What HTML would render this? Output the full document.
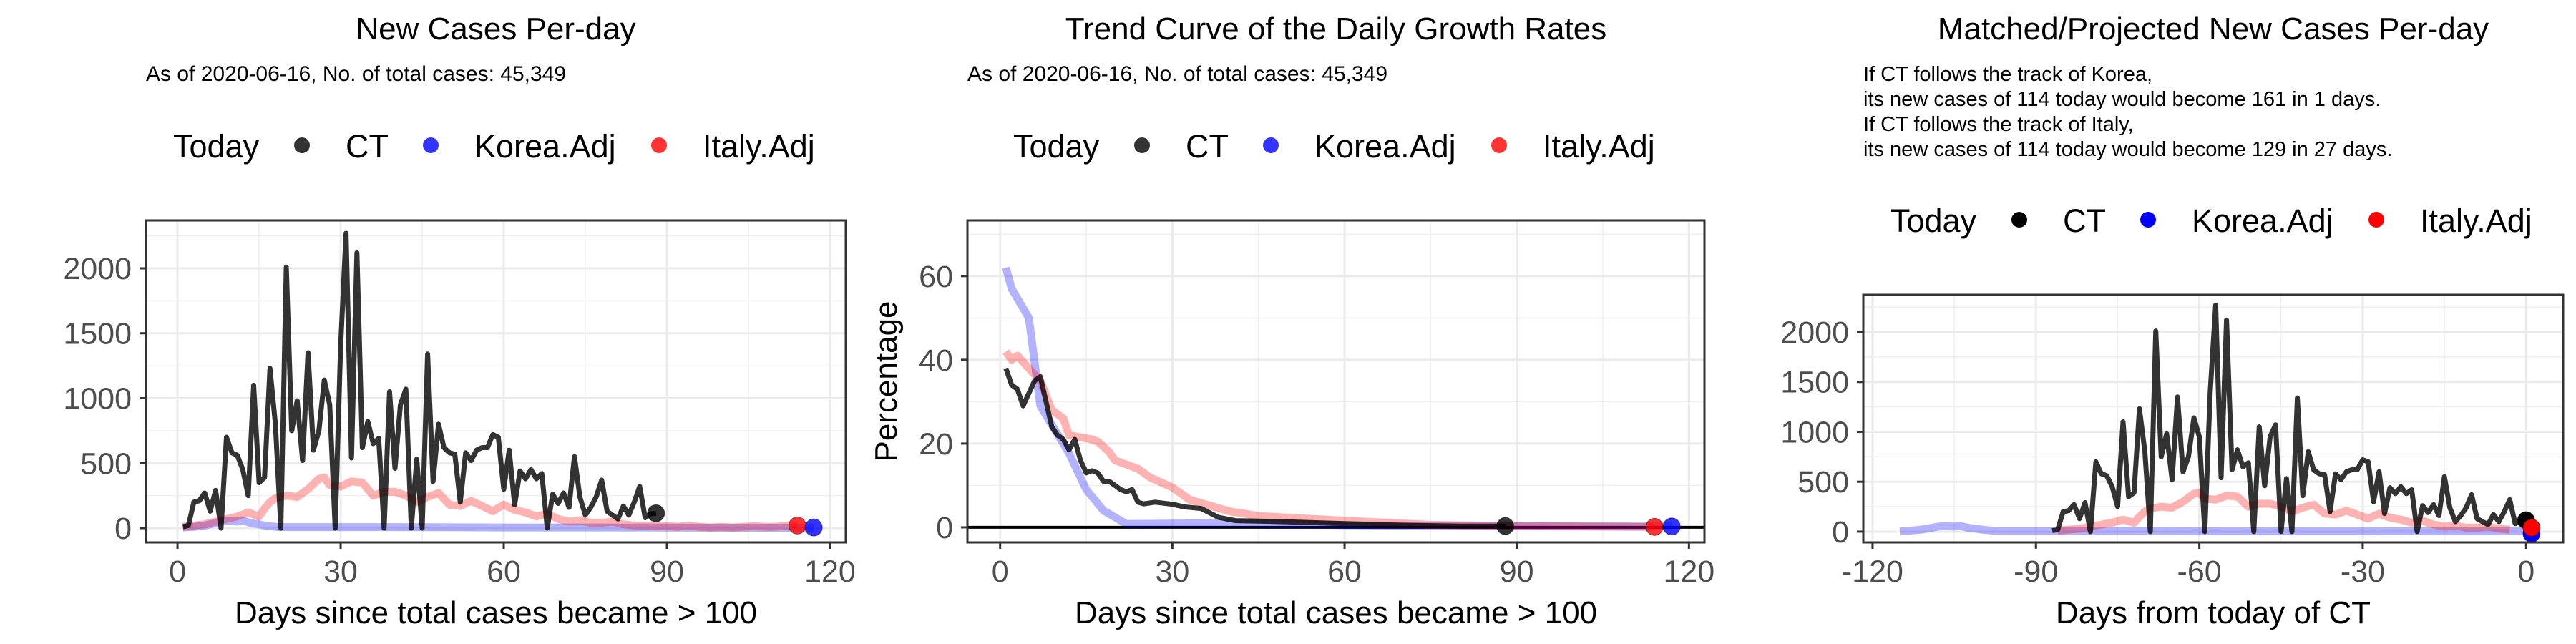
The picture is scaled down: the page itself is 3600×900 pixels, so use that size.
<!DOCTYPE html>
<html><head><meta charset="utf-8">
<style>
html,body{margin:0;padding:0;background:#fff;}
svg{display:block;font-family:"Liberation Sans",Arial,sans-serif;}
</style></head>
<body>
<svg id="chart" width="3600" height="900" viewBox="0 0 3600 900" xmlns="http://www.w3.org/2000/svg">
<rect width="3600" height="900" fill="#fff"/>
<text x="693" y="55" font-size="44" text-anchor="middle">New Cases Per-day</text>
<text x="204" y="113" font-size="30">As of 2020-06-16, No. of total cases: 45,349</text>
<text x="1867" y="55" font-size="44" text-anchor="middle">Trend Curve of the Daily Growth Rates</text>
<text x="1352" y="113" font-size="30">As of 2020-06-16, No. of total cases: 45,349</text>
<text x="3093" y="55" font-size="44" text-anchor="middle">Matched/Projected New Cases Per-day</text>
<g font-size="29">
<text x="2604" y="113">If CT follows the track of Korea,</text>
<text x="2604" y="148">its new cases of 114 today would become 161 in 1 days.</text>
<text x="2604" y="183">If CT follows the track of Italy,</text>
<text x="2604" y="218">its new cases of 114 today would become 129 in 27 days.</text>
</g>
<g id="plots"></g>
</svg>
<script>
// ---- Data ----
const ctDays = [1,2,3,4,5,6,7,8,9,10,11,12,13,14,15,16,17,18,19,20,21,22,23,24,25,26,27,28,29,30,31,32,33,34,35,36,37,38,39,40,41,42,43,44,45,46,47,48,49,50,51,52,53,54,55,56,57,58,59,60,61,62,63,64,65,66,67,68,69,70,71,72,73,74,75,76,77,78,79,80,81,82,83,84,85,86,87,88];
const ctCases = [10,20,200,210,270,130,290,0,700,580,560,450,250,1100,350,390,1230,800,0,2010,750,980,520,1350,600,750,1140,950,0,1400,2270,540,2120,620,820,650,690,0,1050,460,950,1070,0,530,0,1340,360,800,620,580,570,200,580,520,600,620,620,720,700,300,600,180,440,380,450,380,420,0,260,190,270,160,550,240,100,160,240,370,130,100,70,170,100,200,320,80,110,114];
const italyDays = [1,3,5,7,9,11,13,15,16,17,18,20,22,24,26,27,28,30,32,34,36,38,40,42,44,46,48,50,52,54,56,58,60,62,64,66,68,70,72,74,76,78,80,82,84,86,88,90,92,94,96,98,100,102,104,106,108,110,112,114];
const italyCases = [10,20,30,50,70,90,120,90,150,200,230,250,240,300,380,390,330,320,360,350,250,280,280,250,200,240,270,180,170,210,170,130,180,140,120,90,110,70,50,60,40,40,50,30,20,20,15,15,10,20,10,5,10,5,10,15,10,10,20,20];
const koreaDays = [1,2,3,4,5,6,7,8,9,10,11,12,13,14,15,16,17,18,19,20,30,40,60,80,100,117];
const koreaCases = [5,8,10,15,20,30,40,50,55,55,50,60,45,35,30,20,15,10,8,8,8,8,5,5,3,3];
const ctGrowthDays = [1,2,3,4,5,6,7,8,9,10,11,12,13,14,15,16,17,18,19,20,21,22,23,24,25,27,30,32,35,38,41,45,50,55,60,70,80,88];
const ctGrowth = [38,34,33,29,32,35,36,30,24,22,21,18.5,21,16,13,13.5,13,11,11,10,9,8.5,9,6,5.6,6,5.5,4.9,4.5,2.4,1.6,1.5,1.3,1.1,0.9,0.5,0.3,0.3];
const italyGrowthDays = [1,2,3,5,7,9,11,12,16,17,19,20,24,26,30,33,40,45,60,75,90,114];
const italyGrowth = [42,40,41,38,35,28,26,22,21,20.5,18,16,14,12,9.5,6.6,3.8,2.7,1.6,0.6,0.3,0.1];
const koreaGrowthDays = [1,2,5,7,12,15,18,22,40,60,80,117];
const koreaGrowth = [62,57,50,29,17.7,9,4,0.8,1,0.5,0.3,0.2];
const xTicks1 = [0,30,60,90,120];
const yTicks1 = [0,500,1000,1500,2000];
const yTicks2 = [0,20,40,60];
const xTicks3 = [-120,-90,-60,-30,0];
const ctShift = 88, italyShift = 87, koreaShift = 116;

const NS = "http://www.w3.org/2000/svg";
const root = document.getElementById('plots');
function mk(tag, attrs, parent){
  const e = document.createElementNS(NS, tag);
  for (const k in attrs) e.setAttribute(k, attrs[k]);
  (parent||root).appendChild(e);
  return e;
}

function panel(p){
  const g = mk('g', {});
  
  
  const sx = v => p.L + (v - p.x0) / (p.x1 - p.x0) * (p.R - p.L);
  const sy = v => p.B - (v - p.y0) / (p.y1 - p.y0) * (p.B - p.T);
  p.xMinor.forEach(v => { const l = mk('line',{x1:sx(v),x2:sx(v),y1:p.T,y2:p.B,stroke:'#f0f0f0','stroke-width':1.5},g);   });
  p.yMinor.forEach(v => { const l = mk('line',{x1:p.L,x2:p.R,y1:sy(v),y2:sy(v),stroke:'#f0f0f0','stroke-width':1.5},g);   });
  p.xTicks.forEach(v => { const l = mk('line',{x1:sx(v),x2:sx(v),y1:p.T,y2:p.B,stroke:'#ebebeb','stroke-width':3},g);   });
  p.yTicks.forEach(v => { const l = mk('line',{x1:p.L,x2:p.R,y1:sy(v),y2:sy(v),stroke:'#ebebeb','stroke-width':3},g);   });
  const cid = 'clip-' + p.name;
  const cp = mk('clipPath',{id:cid},g);
  mk('rect',{x:p.L,y:p.T,width:p.R-p.L,height:p.B-p.T},cp);
  const plot = mk('g',{'clip-path':'url(#'+cid+')'},g);
  if (p.hline) { const h = mk('line',{x1:p.L,x2:p.R,y1:sy(0),y2:sy(0),stroke:'#000','stroke-width':4},plot);   }
  p.series.forEach(s => {
    const pts = s.xs.map((x,i) => sx(x + (s.shift||0)).toFixed(1) + ',' + sy(s.ys[i]).toFixed(1)).join(' ');
    const pl = mk('polyline',{points:pts,fill:'none',stroke:s.color,'stroke-opacity':s.op,'stroke-width':s.w,'stroke-linejoin':'round'},plot);
    
    
  });
  p.dots.forEach(d => {
    const c = mk('circle',{cx:sx(d.x),cy:sy(d.y),r:12,fill:d.color,'fill-opacity':d.op,stroke:'#000','stroke-opacity':0.5,'stroke-width':1},plot);
    
    
  });
  const b = mk('rect',{x:p.L,y:p.T,width:p.R-p.L,height:p.B-p.T,fill:'none',stroke:'#333','stroke-width':3},g);
  
  
  p.xTicks.forEach(v => {
    mk('line',{x1:sx(v),x2:sx(v),y1:p.B,y2:p.B+9,stroke:'#333','stroke-width':3},g);
    const t = mk('text',{x:sx(v),y:p.B+55,'font-size':43,fill:'#4d4d4d','text-anchor':'middle'},g);
    t.textContent = v;
    
    
  });
  p.yTicks.forEach(v => {
    mk('line',{x1:p.L-9,x2:p.L,y1:sy(v),y2:sy(v),stroke:'#333','stroke-width':3},g);
    const t = mk('text',{x:p.L-20,y:sy(v)+15,'font-size':43,fill:'#4d4d4d','text-anchor':'end'},g);
    t.textContent = v;
    
    
  });
  const xt = mk('text',{x:(p.L+p.R)/2,y:871,'font-size':44,'text-anchor':'middle'},g);
  xt.textContent = p.xTitle;
  
  
  if (p.yTitle) {
    const yt = mk('text',{x:0,y:0,'font-size':44,'text-anchor':'middle',transform:'translate(1253,533) rotate(-90)'},g);
    yt.textContent = p.yTitle;
    
    
  }
  const cx = (p.L+p.R)/2, ly = p.legendY;
  const lg = mk('g',{},g);
  
  
  const base = cx - 693 + 204;
  const items = [
    {dx:38, txt:'Today', dot:null},
    {dx:218, txt:null, dot:p.legendColors[0]},
    {dx:279, txt:'CT'},
    {dx:398, txt:null, dot:p.legendColors[1]},
    {dx:459, txt:'Korea.Adj'},
    {dx:717, txt:null, dot:p.legendColors[2]},
    {dx:778, txt:'Italy.Adj'}
  ];
  items.forEach(it => {
    if (it.txt) {
      const t = mk('text',{x:base+it.dx,y:ly+17,'font-size':45},lg);
      t.textContent = it.txt;
      
      
    } else {
      const c = mk('circle',{cx:base+it.dx,cy:ly,r:11,fill:it.dot,'fill-opacity':p.legendOp},lg);
      
      
    }
  });
}

const RED = '#ff0000', BLUE = '#0000ff', BLK = '#000000';

panel({name:'panel-new-cases', L:204, R:1182, T:308, B:758, x0:-5.8, x1:122.9, y0:-110, y1:2369,
  xTicks:xTicks1, yTicks:yTicks1, xMinor:[15,45,75,105], yMinor:[250,750,1250,1750,2250],
  xTitle:'Days since total cases became > 100', legendY:203, legendColors:[BLK,BLUE,RED], legendOp:0.8,
  series:[
    {name:'korea-line', xs:koreaDays, ys:koreaCases, color:BLUE, op:0.3, w:11},
    {name:'italy-line', xs:italyDays, ys:italyCases, color:RED, op:0.3, w:11},
    {name:'ct-line', xs:ctDays, ys:ctCases, color:BLK, op:0.8, w:7}
  ],
  dots:[
    {name:'ct-today-dot', x:88, y:114, color:BLK, op:0.8},
    {name:'italy-today-dot', x:114, y:20, color:RED, op:0.8},
    {name:'korea-today-dot', x:117, y:5, color:BLUE, op:0.8}
  ]});

panel({name:'panel-growth-rates', L:1352, R:2382, T:308, B:758, x0:-5.7, x1:122.7, y0:-3.6, y1:73.3,
  xTicks:xTicks1, yTicks:yTicks2, xMinor:[15,45,75,105], yMinor:[10,30,50,70],
  xTitle:'Days since total cases became > 100', yTitle:'Percentage', hline:true, legendY:203, legendColors:[BLK,BLUE,RED], legendOp:0.8,
  series:[
    {name:'korea-growth-line', xs:koreaGrowthDays, ys:koreaGrowth, color:BLUE, op:0.3, w:11},
    {name:'italy-growth-line', xs:italyGrowthDays, ys:italyGrowth, color:RED, op:0.3, w:11},
    {name:'ct-growth-line', xs:ctGrowthDays, ys:ctGrowth, color:BLK, op:0.8, w:7}
  ],
  dots:[
    {name:'ct-today-dot', x:88, y:0.3, color:BLK, op:0.8},
    {name:'italy-today-dot', x:114, y:0.1, color:RED, op:0.8},
    {name:'korea-today-dot', x:117, y:0.2, color:BLUE, op:0.8}
  ]});

panel({name:'panel-matched-projected', L:2604, R:3582, T:412, B:758, x0:-121.7, x1:6.8, y0:-108, y1:2373,
  xTicks:xTicks3, yTicks:yTicks1, xMinor:[-105,-75,-45,-15], yMinor:[250,750,1250,1750,2250],
  xTitle:'Days from today of CT', legendY:307, legendColors:[BLK,BLUE,RED], legendOp:1,
  series:[
    {name:'korea-matched-line', xs:koreaDays, ys:koreaCases, color:BLUE, op:0.3, w:11, shift:-koreaShift},
    {name:'italy-matched-line', xs:italyDays.slice(0,45), ys:italyCases.slice(0,45), color:RED, op:0.3, w:11, shift:-italyShift},
    {name:'ct-matched-line', xs:ctDays, ys:ctCases, color:BLK, op:0.8, w:7, shift:-ctShift}
  ],
  dots:[
    {name:'ct-today-dot', x:0, y:114, color:BLK, op:1},
    {name:'korea-projected-dot', x:1, y:-20, color:BLUE, op:1},
    {name:'italy-projected-dot', x:1, y:40, color:RED, op:1}
  ]});
</script>
</body></html>
